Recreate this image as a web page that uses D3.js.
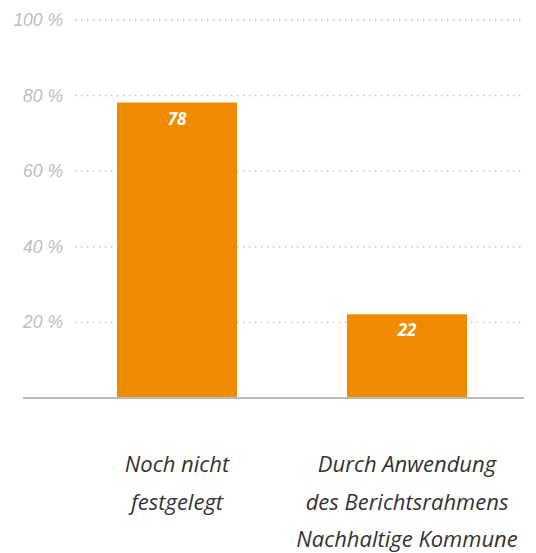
<!DOCTYPE html>
<html>
<head>
<meta charset="utf-8">
<script src="https://cdn.jsdelivr.net/npm/d3@7"></script>
<style>
  body { margin: 0; background: #fff; }
  svg { display: block; font-family: "Open Sans", sans-serif; }
</style>
</head>
<body>
<div id="chart"></div>
<script>
let chart_width = 536;
let chart_height = 553;

// data
let categories = ["Noch nicht festgelegt", "Durch Anwendung des Berichtsrahmens Nachhaltige Kommune"];
let category_lines = [["Noch nicht", "festgelegt"], ["Durch Anwendung", "des Berichtsrahmens", "Nachhaltige Kommune"]];
let values = [78, 22];
let tick_values = [20, 40, 60, 80, 100];

let bar_color = "#f08a00";
let grid_color = "#bdbdbd";

let svg = d3.select("#chart").append("svg")
    .attr("width", chart_width)
    .attr("height", chart_height);

// scales
let x = d3.scaleBand()
    .domain(categories)
    .range([62, 522])
    .paddingInner(0.478)
    .paddingOuter(0.239);

let y = d3.scaleLinear()
    .domain([0, 100])
    .range([397.5, 19.3]);

// grid lines + y labels via axis
let yAxis = d3.axisLeft(y)
    .tickValues(tick_values)
    .tickSize(-(525 - 75))
    .tickPadding(12)
    .tickFormat(d => d + " %");

let gAxis = svg.append("g")
    .attr("transform", "translate(75,0)")
    .call(yAxis);
gAxis.select(".domain").remove();
gAxis.selectAll(".tick line")
    .attr("stroke", grid_color)
    .attr("stroke-width", 1.4)
    .attr("stroke-dasharray", "1.4,4.6");
gAxis.selectAll(".tick text")
    .attr("fill", "#bdbdbd")
    .style("font-size", "17.5px")
    .style("font-style", "italic")
    .attr("dy", "0.35em");

// bars
svg.selectAll(".bar")
    .data(values)
    .enter()
    .append("rect")
    .attr("class", "bar")
    .attr("x", (d, i) => x(categories[i]))
    .attr("width", x.bandwidth())
    .attr("y", d => y(d))
    .attr("height", d => y(0) - y(d))
    .attr("fill", bar_color);

// value labels
svg.selectAll(".val")
    .data(values)
    .enter()
    .append("text")
    .attr("class", "val")
    .attr("x", (d, i) => x(categories[i]) + x.bandwidth() / 2)
    .attr("y", d => y(d) + 22)
    .attr("text-anchor", "middle")
    .attr("fill", "#fff")
    .style("font-size", "17px")
    .style("font-weight", "bold")
    .style("font-style", "italic")
    .text(d => d);

// baseline
svg.append("line")
    .attr("x1", 23)
    .attr("x2", 524)
    .attr("y1", y(0) + 0.5)
    .attr("y2", y(0) + 0.5)
    .attr("stroke", "#bbbbbb")
    .attr("stroke-width", 2);

// category labels
let catText = svg.selectAll(".cat")
    .data(categories)
    .enter()
    .append("text")
    .attr("class", "cat")
    .attr("text-anchor", "middle")
    .attr("fill", "#333")
    .style("font-size", "22px")
    .style("font-style", "italic");

catText.each(function(d, i) {
    let cx = x(d) + x.bandwidth() / 2;
    d3.select(this).selectAll("tspan")
        .data(category_lines[i])
        .enter()
        .append("tspan")
        .attr("x", cx)
        .attr("y", (t, j) => 472 + j * 37.5)
        .text(t => t);
});
</script>
</body>
</html>
